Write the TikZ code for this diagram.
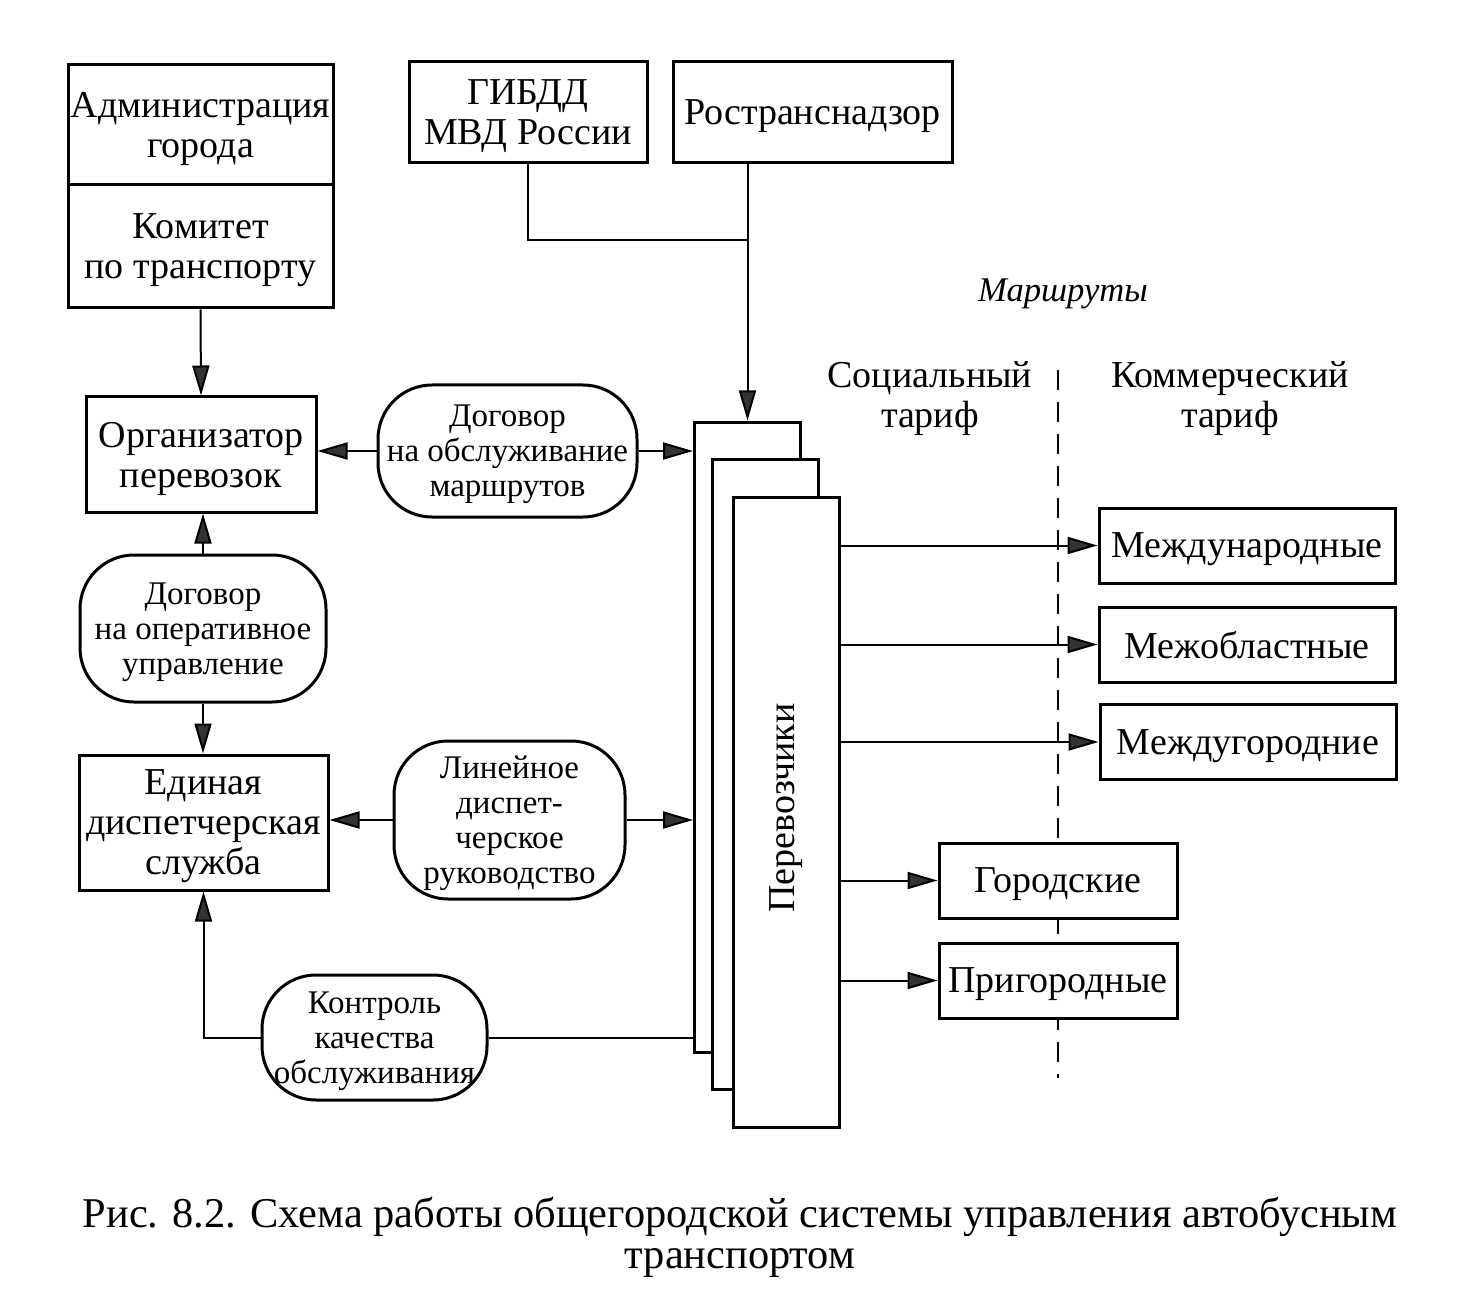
\documentclass[tikz,border=0pt]{standalone}
\usepackage{fontspec}
\setmainfont{Liberation Serif}
\usetikzlibrary{arrows.meta}

\begin{document}
\begin{tikzpicture}[x=0.5pt,y=0.5pt,yscale=-1,xscale=1,
	txt/.style={font=\fontsize{19}{20}\selectfont, align=center, inner sep=0pt},
	box/.style={txt, draw, line width=1.5pt, fill=white, text depth=0pt},
	roundbox/.style={box, rounded corners=27pt, font=\fontsize{16.5}{17.5}\selectfont},
	sheet/.style={draw, line width=1.5pt, fill=white, inner sep=0pt, minimum width=53pt, minimum height=315pt},
	conn/.style={line width=1pt},
	arr/.style={conn, -{Triangle[length=15pt, width=8.5pt, fill=black!80]}}]
	\useasboundingbox (0,0) rectangle (1468,1316);
	
	%Dashed line between tariffs
	\draw [line width=1pt, dash pattern=on 10pt off 6pt] (1058,370) -- (1058,1078) ;
	
	%Shape: Rectangle [admin]
	\node [box, minimum width=132.5pt, minimum height=60pt] (admin) at (200.5,125) {Администрация\\города};
	%Shape: Rectangle [committee]
	\node [box, minimum width=132.5pt, minimum height=61.5pt] (committee) at (200.5,246.5) {Комитет\\по транспорту};
	%Shape: Rectangle [gibdd]
	\node [box, minimum width=119pt, minimum height=50.5pt] (gibdd) at (528,112.5) {ГИБДД\\МВД России};
	%Shape: Rectangle [rostrans]
	\node [box, minimum width=139.5pt, minimum height=50.5pt] (rostrans) at (812.5,112.5) {Ространснадзор};
	%Shape: Rectangle [organizer]
	\node [box, minimum width=115pt, minimum height=57.5pt] (organizer) at (201,454.5) {Организатор\\перевозок};
	%Shape: Rounded Rect [routecontract]
	\node [roundbox, minimum width=129.5pt, minimum height=66pt] (routecontract) at (507.5,451) {Договор\\на обслуживание\\маршрутов};
	%Shape: Rounded Rect [opcontract]
	\node [roundbox, minimum width=123pt, minimum height=73.5pt] (opcontract) at (203,628.5) {Договор\\на оперативное\\управление};
	%Shape: Rectangle [dispatch]
	\node [box, minimum width=124.5pt, minimum height=67.5pt] (dispatch) at (203.5,822.5) {Единая\\диспетчерская\\служба};
	%Shape: Rounded Rect [linedispatch]
	\node [roundbox, minimum width=115.5pt, minimum height=79pt] (linedispatch) at (509.5,820) {Линейное\\диспет-\\черское\\руководство};
	%Shape: Rounded Rect [quality]
	\node [roundbox, minimum width=112.5pt, minimum height=62.5pt] (quality) at (374.5,1037.5) {Контроль\\качества\\обслуживания};
	
	%Carriers: three stacked sheets
	\node [sheet] (sheetA) at (747.5,737) {};
	\node [sheet] (sheetB) at (765,774.5) {};
	\node [sheet] (sheetC) at (786.5,812) {};
	\node [txt, rotate=90] (carriers) at (786.5,808) {Перевозчики};
	
	%Route boxes
	\node [box, minimum width=148pt, minimum height=37.5pt] (intl) at (1247,545.5) {Международные};
	\node [box, minimum width=148pt, minimum height=37.5pt] (interreg) at (1247,644.5) {Межобластные};
	\node [box, minimum width=148pt, minimum height=37.5pt] (intercity) at (1248,742) {Междугородние};
	\node [box, minimum width=119pt, minimum height=37.5pt] (urban) at (1058,880.5) {Городские};
	\node [box, minimum width=119pt, minimum height=37.5pt] (suburban) at (1058,980.5) {Пригородные};
	
	%Labels
	\node [txt, font=\fontsize{17.3}{18}\selectfont\itshape] (routes) at (1063,294) {Маршруты};
	\node [txt] (social) at (930,399) {Социальный\\тариф};
	\node [txt] (commercial) at (1230,399) {Коммерческий\\тариф};
	\node [txt, font=\fontsize{21.2}{20.5}\selectfont] (caption) at (740,1237) {Рис. 8.2. Схема работы общегородской системы управления автобусным\\транспортом};
	
	%Straight Lines
	\coordinate (merge) at (sheetA.north |- 0,240);
	\draw [conn] (gibdd.south) |- (merge) ;
	\draw [arr] (sheetA.north |- rostrans.south) -- (sheetA.north) ;
	\draw [arr] (committee.south) -- (organizer.north) ;
	\draw [arr] (routecontract.west) -- (routecontract.west -| organizer.east) ;
	\draw [arr] (routecontract.east) -- (routecontract.east -| sheetA.west) ;
	\draw [arr] (opcontract.north) -- (opcontract.north |- organizer.south) ;
	\draw [arr] (opcontract.south) -- (opcontract.south |- dispatch.north) ;
	\draw [arr] (linedispatch.west) -- (linedispatch.west -| dispatch.east) ;
	\draw [arr] (linedispatch.east) -- (linedispatch.east -| sheetA.west) ;
	\draw [conn] (quality.east -| sheetA.west) -- (quality.east) ;
	\draw [arr] (quality.west) -| (dispatch.south) ;
	\draw [arr] (sheetC.east |- intl.west) -- (intl.west) ;
	\draw [arr] (sheetC.east |- interreg.west) -- (interreg.west) ;
	\draw [arr] (sheetC.east |- intercity.west) -- (intercity.west) ;
	\draw [arr] (sheetC.east |- urban.west) -- (urban.west) ;
	\draw [arr] (sheetC.east |- suburban.west) -- (suburban.west) ;
\end{tikzpicture}
\end{document}
